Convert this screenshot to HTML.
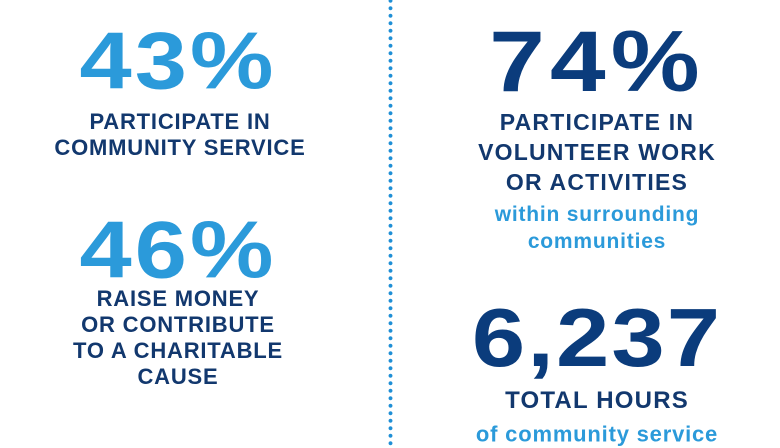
<!DOCTYPE html>
<html><head><meta charset="utf-8"><style>
body{margin:0;width:780px;height:439px;overflow:hidden;background:#fff;font-family:"Liberation Sans",Arial,sans-serif;position:relative}
.t{position:absolute;text-align:center;font-weight:bold;white-space:nowrap;transform:translateY(-50%)}
.L{left:0;width:360px}
.R{left:420px;width:354px}
.big{font-size:92px;line-height:92px;letter-spacing:3px;transform:translateY(-50%) scale(1.02,0.88)}
.lb{color:#2b9ada}
.nv{color:#0b3c7c}
.lab{color:#12386e;font-size:22px;line-height:26px;letter-spacing:0.8px}
.sub{color:#2b9ada;font-size:21px;line-height:27px;letter-spacing:0.8px}
#dots{position:absolute;left:388px;top:-3px;width:5px;height:450px;background:radial-gradient(circle,#1f8fd6 1.7px,transparent 2.2px) 0 0/5px 7.5px repeat-y}
</style></head><body>
<div id="dots"></div>
<div class="t L big lb" style="top:61px;width:356px">43%</div>
<div class="t L lab" style="top:135px">PARTICIPATE IN<br>COMMUNITY SERVICE</div>
<div class="t L big lb" style="top:250px;width:356px">46%</div>
<div class="t L lab" style="top:338px;width:356px">RAISE MONEY<br>OR CONTRIBUTE<br>TO A CHARITABLE<br>CAUSE</div>
<div class="t R big nv" style="top:61px;font-size:98px;letter-spacing:5px">74%</div>
<div class="t R lab" style="top:152px;font-size:23px;line-height:30px;letter-spacing:1.2px">PARTICIPATE IN<br>VOLUNTEER WORK<br>OR ACTIVITIES</div>
<div class="t R sub" style="top:228px">within surrounding<br>communities</div>
<div class="t R big nv" style="top:338px;font-size:94px;letter-spacing:2px">6,237</div>
<div class="t R lab" style="top:401px;font-size:24px;letter-spacing:1.2px">TOTAL HOURS</div>
<div class="t R sub" style="top:434px;font-size:22px">of community service</div>
</body></html>
